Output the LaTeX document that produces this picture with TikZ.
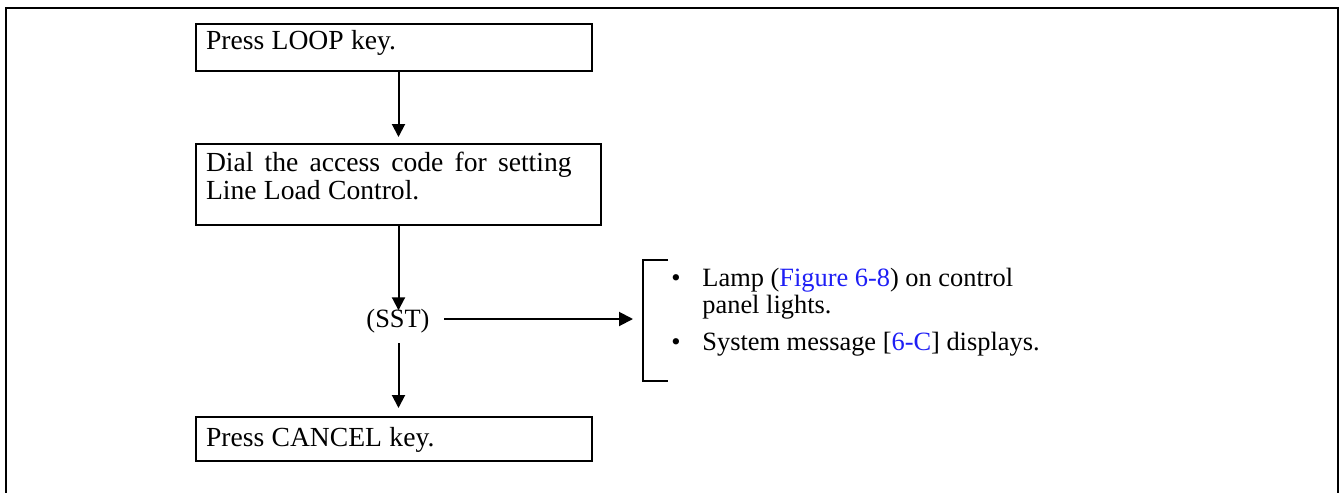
\documentclass[tikz,border=0pt]{standalone}
\usepackage{fontspec}
\setmainfont{Liberation Serif}
\usetikzlibrary{arrows.meta}
\definecolor{linkblue}{RGB}{30,30,245}
\newcommand{\boxSpaces}{\spaceskip=3.7pt\relax}
\begin{document}
\begin{tikzpicture}[x=0.5pt,y=-0.5pt,
  every node/.style={font=\fontsize{13.2}{14}\selectfont},
  stepbox/.style={draw, line width=1pt, rectangle, anchor=north west,
    inner xsep=5pt, inner ysep=0pt, align=left,
    font=\fontsize{13.8}{14}\selectfont,
    execute at begin node=\boxSpaces},
  flow/.style={draw, line width=1pt, -{Triangle[length=6.5pt,width=6.5pt]}},
  hflow/.style={draw, line width=1pt, -{Triangle[length=7pt,width=7pt]}},
  frameline/.style={draw, line width=1pt}]
\useasboundingbox (0,0) rectangle (1340,493);
% outer frame (open at the bottom)
\draw[frameline] (6,493) -- (6,8) -- (1338,8) -- (1338,493);
% boxes
\node[stepbox, text width=188pt, text height=12.9pt, text depth=10.8pt] (b1) at (195,23) {Press LOOP key.};
\node[stepbox, text width=192.5pt, text height=13.6pt, text depth=27.1pt] (b2) at (195,143)
  {{\spaceskip=5.6pt\relax Dial the access code for setting}\\Line Load Control.};
\node[stepbox, text width=188pt, text height=14.6pt, text depth=7.4pt] (b3) at (195,416) {Press CANCEL key.};
% SST
\node[anchor=base, inner sep=0pt] (sst) at (398,327) {(SST)};
% notes with bracket
\node[anchor=base west, inner sep=0pt, font=\fontsize{13.2}{13.5}\selectfont] (notes) at (671,286)
  {\begin{tabular}[t]{@{}l@{}l@{}}
   \makebox[15.5pt][l]{\textbullet} & Lamp (\textcolor{linkblue}{Figure 6-8}) on control\\
   & panel lights.\\[5pt]
   \makebox[15.5pt][l]{\textbullet} & System message [\textcolor{linkblue}{6-C}] displays.
   \end{tabular}};
\coordinate (brtop) at (643,260);
\coordinate (brbot) at (643,381);
\coordinate (brk) at (643,319);
\draw[frameline] ([xshift=12.5pt]brtop) -- (brtop) -- (brbot) -- ([xshift=12.5pt]brbot);
% connectors
\draw[flow, shorten >=3pt] (b1.south -| b2.north) -- (b2.north);
\draw[flow, shorten >=-1pt] (b2.south) -- (b2.south |- sst.north);
\draw[flow, shorten <=5pt, shorten >=4pt] (b2.south |- sst.south) -- (b2.south |- b3.north);
\draw[hflow, shorten <=7.25pt, shorten >=5pt] (sst.east |- brk) -- (brk);
\end{tikzpicture}
\end{document}
